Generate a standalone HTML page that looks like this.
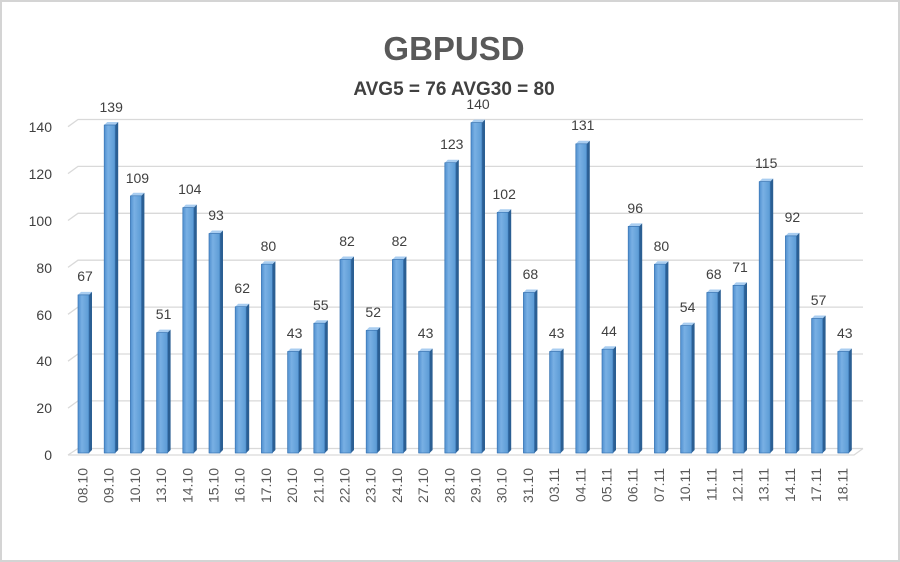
<!DOCTYPE html>
<html><head><meta charset="utf-8"><style>
html,body{margin:0;padding:0;background:#fff;}
svg{display:block;font-family:"Liberation Sans",sans-serif;}
</style></head><body>
<svg width="900" height="562" viewBox="0 0 900 562" xmlns="http://www.w3.org/2000/svg">
<defs>
<linearGradient id="fr" x1="0" y1="0" x2="1" y2="0">
<stop offset="0" stop-color="#4f8fcf"/><stop offset="0.35" stop-color="#79b0e4"/><stop offset="1" stop-color="#5b9bd5"/>
</linearGradient>
</defs>
<rect x="1" y="1" width="898" height="560" fill="#fff" stroke="#d4d4d4" stroke-width="2"/>
<text x="454" y="60" text-anchor="middle" font-size="33" font-weight="bold" fill="#595959">GBPUSD</text>
<text x="454" y="95" text-anchor="middle" font-size="19" font-weight="bold" fill="#404040">AVG5 = 76 AVG30 = 80</text>
<g stroke="#d9d9d9" stroke-width="1.3" fill="none">
<polyline points="68,126.7 78,119.5 863,119.5"/>
<polyline points="68,173.6 78,166.4 863,166.4"/>
<polyline points="68,220.5 78,213.3 863,213.3"/>
<polyline points="68,267.4 78,260.2 863,260.2"/>
<polyline points="68,314.3 78,307.1 863,307.1"/>
<polyline points="68,361.2 78,354 863,354"/>
<polyline points="68,408.1 78,400.9 863,400.9"/>
<polyline points="68,455 78,448.5 863,448.5"/>
<polyline points="68,455 854,455 863,448.5"/>
</g>
<g font-size="14" fill="#404040" text-anchor="end">
<text x="52" y="132">140</text>
<text x="52" y="179">120</text>
<text x="52" y="226">100</text>
<text x="52" y="273">80</text>
<text x="52" y="320">60</text>
<text x="52" y="366">40</text>
<text x="52" y="413">20</text>
<text x="52" y="460">0</text>
</g>
<g id="bars" stroke-linejoin="round">
<g transform="translate(78,0)"><polygon points="0,294.9 3,291.9 14,291.9 11,294.9" fill="#a9cdf0"/><polygon points="11,294.9 14,291.9 14,450 11,453" fill="#2b5f93"/><rect x="0" y="294.9" width="11" height="158.1" fill="url(#fr)" stroke="#3a76b4" stroke-width="0.7"/></g>
<g transform="translate(104.2,0)"><polygon points="0,125 3,122 14,122 11,125" fill="#a9cdf0"/><polygon points="11,125 14,122 14,450 11,453" fill="#2b5f93"/><rect x="0" y="125" width="11" height="328" fill="url(#fr)" stroke="#3a76b4" stroke-width="0.7"/></g>
<g transform="translate(130.4,0)"><polygon points="0,195.8 3,192.8 14,192.8 11,195.8" fill="#a9cdf0"/><polygon points="11,195.8 14,192.8 14,450 11,453" fill="#2b5f93"/><rect x="0" y="195.8" width="11" height="257.2" fill="url(#fr)" stroke="#3a76b4" stroke-width="0.7"/></g>
<g transform="translate(156.6,0)"><polygon points="0,332.6 3,329.6 14,329.6 11,332.6" fill="#a9cdf0"/><polygon points="11,332.6 14,329.6 14,450 11,453" fill="#2b5f93"/><rect x="0" y="332.6" width="11" height="120.4" fill="url(#fr)" stroke="#3a76b4" stroke-width="0.7"/></g>
<g transform="translate(182.8,0)"><polygon points="0,207.6 3,204.6 14,204.6 11,207.6" fill="#a9cdf0"/><polygon points="11,207.6 14,204.6 14,450 11,453" fill="#2b5f93"/><rect x="0" y="207.6" width="11" height="245.4" fill="url(#fr)" stroke="#3a76b4" stroke-width="0.7"/></g>
<g transform="translate(209,0)"><polygon points="0,233.5 3,230.5 14,230.5 11,233.5" fill="#a9cdf0"/><polygon points="11,233.5 14,230.5 14,450 11,453" fill="#2b5f93"/><rect x="0" y="233.5" width="11" height="219.5" fill="url(#fr)" stroke="#3a76b4" stroke-width="0.7"/></g>
<g transform="translate(235.2,0)"><polygon points="0,306.7 3,303.7 14,303.7 11,306.7" fill="#a9cdf0"/><polygon points="11,306.7 14,303.7 14,450 11,453" fill="#2b5f93"/><rect x="0" y="306.7" width="11" height="146.3" fill="url(#fr)" stroke="#3a76b4" stroke-width="0.7"/></g>
<g transform="translate(261.4,0)"><polygon points="0,264.2 3,261.2 14,261.2 11,264.2" fill="#a9cdf0"/><polygon points="11,264.2 14,261.2 14,450 11,453" fill="#2b5f93"/><rect x="0" y="264.2" width="11" height="188.8" fill="url(#fr)" stroke="#3a76b4" stroke-width="0.7"/></g>
<g transform="translate(287.6,0)"><polygon points="0,351.5 3,348.5 14,348.5 11,351.5" fill="#a9cdf0"/><polygon points="11,351.5 14,348.5 14,450 11,453" fill="#2b5f93"/><rect x="0" y="351.5" width="11" height="101.5" fill="url(#fr)" stroke="#3a76b4" stroke-width="0.7"/></g>
<g transform="translate(313.8,0)"><polygon points="0,323.2 3,320.2 14,320.2 11,323.2" fill="#a9cdf0"/><polygon points="11,323.2 14,320.2 14,450 11,453" fill="#2b5f93"/><rect x="0" y="323.2" width="11" height="129.8" fill="url(#fr)" stroke="#3a76b4" stroke-width="0.7"/></g>
<g transform="translate(340,0)"><polygon points="0,259.5 3,256.5 14,256.5 11,259.5" fill="#a9cdf0"/><polygon points="11,259.5 14,256.5 14,450 11,453" fill="#2b5f93"/><rect x="0" y="259.5" width="11" height="193.5" fill="url(#fr)" stroke="#3a76b4" stroke-width="0.7"/></g>
<g transform="translate(366.2,0)"><polygon points="0,330.3 3,327.3 14,327.3 11,330.3" fill="#a9cdf0"/><polygon points="11,330.3 14,327.3 14,450 11,453" fill="#2b5f93"/><rect x="0" y="330.3" width="11" height="122.7" fill="url(#fr)" stroke="#3a76b4" stroke-width="0.7"/></g>
<g transform="translate(392.4,0)"><polygon points="0,259.5 3,256.5 14,256.5 11,259.5" fill="#a9cdf0"/><polygon points="11,259.5 14,256.5 14,450 11,453" fill="#2b5f93"/><rect x="0" y="259.5" width="11" height="193.5" fill="url(#fr)" stroke="#3a76b4" stroke-width="0.7"/></g>
<g transform="translate(418.6,0)"><polygon points="0,351.5 3,348.5 14,348.5 11,351.5" fill="#a9cdf0"/><polygon points="11,351.5 14,348.5 14,450 11,453" fill="#2b5f93"/><rect x="0" y="351.5" width="11" height="101.5" fill="url(#fr)" stroke="#3a76b4" stroke-width="0.7"/></g>
<g transform="translate(444.8,0)"><polygon points="0,162.7 3,159.7 14,159.7 11,162.7" fill="#a9cdf0"/><polygon points="11,162.7 14,159.7 14,450 11,453" fill="#2b5f93"/><rect x="0" y="162.7" width="11" height="290.3" fill="url(#fr)" stroke="#3a76b4" stroke-width="0.7"/></g>
<g transform="translate(471,0)"><polygon points="0,122.6 3,119.6 14,119.6 11,122.6" fill="#a9cdf0"/><polygon points="11,122.6 14,119.6 14,450 11,453" fill="#2b5f93"/><rect x="0" y="122.6" width="11" height="330.4" fill="url(#fr)" stroke="#3a76b4" stroke-width="0.7"/></g>
<g transform="translate(497.2,0)"><polygon points="0,212.3 3,209.3 14,209.3 11,212.3" fill="#a9cdf0"/><polygon points="11,212.3 14,209.3 14,450 11,453" fill="#2b5f93"/><rect x="0" y="212.3" width="11" height="240.7" fill="url(#fr)" stroke="#3a76b4" stroke-width="0.7"/></g>
<g transform="translate(523.4,0)"><polygon points="0,292.5 3,289.5 14,289.5 11,292.5" fill="#a9cdf0"/><polygon points="11,292.5 14,289.5 14,450 11,453" fill="#2b5f93"/><rect x="0" y="292.5" width="11" height="160.5" fill="url(#fr)" stroke="#3a76b4" stroke-width="0.7"/></g>
<g transform="translate(549.6,0)"><polygon points="0,351.5 3,348.5 14,348.5 11,351.5" fill="#a9cdf0"/><polygon points="11,351.5 14,348.5 14,450 11,453" fill="#2b5f93"/><rect x="0" y="351.5" width="11" height="101.5" fill="url(#fr)" stroke="#3a76b4" stroke-width="0.7"/></g>
<g transform="translate(575.8,0)"><polygon points="0,143.8 3,140.8 14,140.8 11,143.8" fill="#a9cdf0"/><polygon points="11,143.8 14,140.8 14,450 11,453" fill="#2b5f93"/><rect x="0" y="143.8" width="11" height="309.2" fill="url(#fr)" stroke="#3a76b4" stroke-width="0.7"/></g>
<g transform="translate(602,0)"><polygon points="0,349.2 3,346.2 14,346.2 11,349.2" fill="#a9cdf0"/><polygon points="11,349.2 14,346.2 14,450 11,453" fill="#2b5f93"/><rect x="0" y="349.2" width="11" height="103.8" fill="url(#fr)" stroke="#3a76b4" stroke-width="0.7"/></g>
<g transform="translate(628.2,0)"><polygon points="0,226.4 3,223.4 14,223.4 11,226.4" fill="#a9cdf0"/><polygon points="11,226.4 14,223.4 14,450 11,453" fill="#2b5f93"/><rect x="0" y="226.4" width="11" height="226.6" fill="url(#fr)" stroke="#3a76b4" stroke-width="0.7"/></g>
<g transform="translate(654.4,0)"><polygon points="0,264.2 3,261.2 14,261.2 11,264.2" fill="#a9cdf0"/><polygon points="11,264.2 14,261.2 14,450 11,453" fill="#2b5f93"/><rect x="0" y="264.2" width="11" height="188.8" fill="url(#fr)" stroke="#3a76b4" stroke-width="0.7"/></g>
<g transform="translate(680.6,0)"><polygon points="0,325.6 3,322.6 14,322.6 11,325.6" fill="#a9cdf0"/><polygon points="11,325.6 14,322.6 14,450 11,453" fill="#2b5f93"/><rect x="0" y="325.6" width="11" height="127.4" fill="url(#fr)" stroke="#3a76b4" stroke-width="0.7"/></g>
<g transform="translate(706.8,0)"><polygon points="0,292.5 3,289.5 14,289.5 11,292.5" fill="#a9cdf0"/><polygon points="11,292.5 14,289.5 14,450 11,453" fill="#2b5f93"/><rect x="0" y="292.5" width="11" height="160.5" fill="url(#fr)" stroke="#3a76b4" stroke-width="0.7"/></g>
<g transform="translate(733,0)"><polygon points="0,285.4 3,282.4 14,282.4 11,285.4" fill="#a9cdf0"/><polygon points="11,285.4 14,282.4 14,450 11,453" fill="#2b5f93"/><rect x="0" y="285.4" width="11" height="167.6" fill="url(#fr)" stroke="#3a76b4" stroke-width="0.7"/></g>
<g transform="translate(759.2,0)"><polygon points="0,181.6 3,178.6 14,178.6 11,181.6" fill="#a9cdf0"/><polygon points="11,181.6 14,178.6 14,450 11,453" fill="#2b5f93"/><rect x="0" y="181.6" width="11" height="271.4" fill="url(#fr)" stroke="#3a76b4" stroke-width="0.7"/></g>
<g transform="translate(785.4,0)"><polygon points="0,235.9 3,232.9 14,232.9 11,235.9" fill="#a9cdf0"/><polygon points="11,235.9 14,232.9 14,450 11,453" fill="#2b5f93"/><rect x="0" y="235.9" width="11" height="217.1" fill="url(#fr)" stroke="#3a76b4" stroke-width="0.7"/></g>
<g transform="translate(811.6,0)"><polygon points="0,318.5 3,315.5 14,315.5 11,318.5" fill="#a9cdf0"/><polygon points="11,318.5 14,315.5 14,450 11,453" fill="#2b5f93"/><rect x="0" y="318.5" width="11" height="134.5" fill="url(#fr)" stroke="#3a76b4" stroke-width="0.7"/></g>
<g transform="translate(837.8,0)"><polygon points="0,351.5 3,348.5 14,348.5 11,351.5" fill="#a9cdf0"/><polygon points="11,351.5 14,348.5 14,450 11,453" fill="#2b5f93"/><rect x="0" y="351.5" width="11" height="101.5" fill="url(#fr)" stroke="#3a76b4" stroke-width="0.7"/></g>
</g>
<g font-size="14" fill="#404040" text-anchor="middle">
<text x="85" y="281">67</text>
<text x="111.2" y="112">139</text>
<text x="137.4" y="183">109</text>
<text x="163.6" y="319">51</text>
<text x="189.8" y="194">104</text>
<text x="216" y="220">93</text>
<text x="242.2" y="293">62</text>
<text x="268.4" y="251">80</text>
<text x="294.6" y="338">43</text>
<text x="320.8" y="310">55</text>
<text x="347" y="246">82</text>
<text x="373.2" y="317">52</text>
<text x="399.4" y="246">82</text>
<text x="425.6" y="338">43</text>
<text x="451.8" y="149">123</text>
<text x="478" y="109">140</text>
<text x="504.2" y="199">102</text>
<text x="530.4" y="279">68</text>
<text x="556.6" y="338">43</text>
<text x="582.8" y="130">131</text>
<text x="609" y="336">44</text>
<text x="635.2" y="213">96</text>
<text x="661.4" y="251">80</text>
<text x="687.6" y="312">54</text>
<text x="713.8" y="279">68</text>
<text x="740" y="272">71</text>
<text x="766.2" y="168">115</text>
<text x="792.4" y="222">92</text>
<text x="818.6" y="305">57</text>
<text x="844.8" y="338">43</text>
</g>
<g font-size="14" fill="#595959" text-anchor="end">
<text transform="translate(87.5,468) rotate(-90)">08.10</text>
<text transform="translate(113.7,468) rotate(-90)">09.10</text>
<text transform="translate(139.9,468) rotate(-90)">10.10</text>
<text transform="translate(166.1,468) rotate(-90)">13.10</text>
<text transform="translate(192.3,468) rotate(-90)">14.10</text>
<text transform="translate(218.5,468) rotate(-90)">15.10</text>
<text transform="translate(244.7,468) rotate(-90)">16.10</text>
<text transform="translate(270.9,468) rotate(-90)">17.10</text>
<text transform="translate(297.1,468) rotate(-90)">20.10</text>
<text transform="translate(323.3,468) rotate(-90)">21.10</text>
<text transform="translate(349.5,468) rotate(-90)">22.10</text>
<text transform="translate(375.7,468) rotate(-90)">23.10</text>
<text transform="translate(401.9,468) rotate(-90)">24.10</text>
<text transform="translate(428.1,468) rotate(-90)">27.10</text>
<text transform="translate(454.3,468) rotate(-90)">28.10</text>
<text transform="translate(480.5,468) rotate(-90)">29.10</text>
<text transform="translate(506.7,468) rotate(-90)">30.10</text>
<text transform="translate(532.9,468) rotate(-90)">31.10</text>
<text transform="translate(559.1,468) rotate(-90)">03.11</text>
<text transform="translate(585.3,468) rotate(-90)">04.11</text>
<text transform="translate(611.5,468) rotate(-90)">05.11</text>
<text transform="translate(637.7,468) rotate(-90)">06.11</text>
<text transform="translate(663.9,468) rotate(-90)">07.11</text>
<text transform="translate(690.1,468) rotate(-90)">10.11</text>
<text transform="translate(716.3,468) rotate(-90)">11.11</text>
<text transform="translate(742.5,468) rotate(-90)">12.11</text>
<text transform="translate(768.7,468) rotate(-90)">13.11</text>
<text transform="translate(794.9,468) rotate(-90)">14.11</text>
<text transform="translate(821.1,468) rotate(-90)">17.11</text>
<text transform="translate(847.3,468) rotate(-90)">18.11</text>
</g>
</svg>
</body></html>
